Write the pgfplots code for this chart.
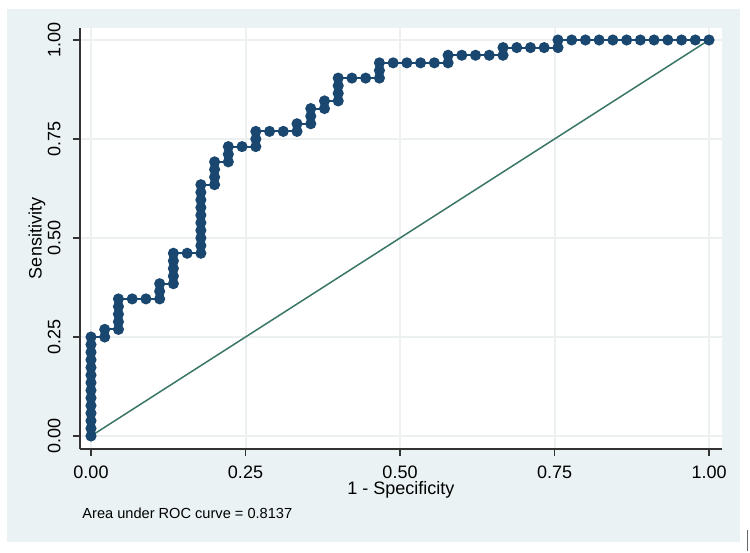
\documentclass[border=0pt]{standalone}
\usepackage{fontspec}
\setmainfont{Liberation Sans}
\usepackage{pgfplots}
\pgfplotsset{compat=1.18}

\definecolor{stnavy}{RGB}{26,71,111}
\definecolor{bgblue}{RGB}{234,242,243}
\definecolor{refgreen}{RGB}{57,118,102}
\definecolor{gridc}{RGB}{236,240,241}

\begin{document}
\begin{tikzpicture}
  % picture frame, 1 px = 0.5pt, origin at the axis corner
  \useasboundingbox (-40pt,-51.5pt) rectangle (335pt,224.5pt);
  \fill[bgblue] (-36.5pt,-46.5pt) rectangle (330pt,220pt);
  \begin{axis}[
    at={(0pt,0pt)}, anchor=south west,
    scale only axis, width=321pt, height=210.5pt,
    xmin=-0.0178, xmax=1.021, ymin=-0.0328, ymax=1.0303,
    axis x line*=bottom, axis y line*=left,
    axis line style={draw=black!80, line width=0.6pt},
    axis background/.style={fill=white},
    xtick={0,0.25,0.5,0.75,1}, ytick={0,0.25,0.5,0.75,1},
    xticklabels={0.00,0.25,0.50,0.75,1.00},
    yticklabels={0.00,0.25,0.50,0.75,1.00},
    tick align=outside, major tick length=3.5pt,
    tick style={draw=black!80, line width=0.6pt},
    grid=major, major grid style={draw=gridc, line width=1pt},
    ticklabel style={font=\fontsize{9}{10}\selectfont, inner sep=0pt},
    xticklabel style={anchor=north, yshift=-4.8pt},
    yticklabel style={rotate=90, anchor=south, yshift=6pt},
    xlabel={1 - Specificity},
    ylabel={Sensitivity},
    label style={font=\fontsize{9}{10}\selectfont, inner sep=0pt},
    xlabel style={at={(axis description cs:0.5,0)}, anchor=center, yshift=-20.5pt},
    ylabel style={at={(axis description cs:0,0.5)}, anchor=center, yshift=21.5pt},
  ]
    \addplot[refgreen, line width=0.75pt] coordinates {(0,0) (1,1)};
    \addplot[stnavy, line width=1pt, mark=*, mark size=2.25pt,
             mark options={fill=stnavy, draw=stnavy}] coordinates {
      (0,0) (0,0.0192) (0,0.0385) (0,0.0577) (0,0.0769) (0,0.0962) (0,0.1154)
      (0,0.1346) (0,0.1538) (0,0.1731) (0,0.1923) (0,0.2115) (0,0.2308) (0,0.25)
      (0.0222,0.25) (0.0222,0.2692)
      (0.0444,0.2692) (0.0444,0.2885) (0.0444,0.3077) (0.0444,0.3269) (0.0444,0.3462)
      (0.0667,0.3462) (0.0889,0.3462) (0.1111,0.3462) (0.1111,0.3654) (0.1111,0.3846)
      (0.1333,0.3846) (0.1333,0.4038) (0.1333,0.4231) (0.1333,0.4423) (0.1333,0.4615)
      (0.1556,0.4615) (0.1778,0.4615) (0.1778,0.4808) (0.1778,0.5) (0.1778,0.5192)
      (0.1778,0.5385) (0.1778,0.5577) (0.1778,0.5769) (0.1778,0.5962) (0.1778,0.6154)
      (0.1778,0.6346)
      (0.2,0.6346) (0.2,0.6538) (0.2,0.6731) (0.2,0.6923)
      (0.2222,0.6923) (0.2222,0.7115) (0.2222,0.7308)
      (0.2444,0.7308) (0.2667,0.7308) (0.2667,0.75) (0.2667,0.7692)
      (0.2889,0.7692) (0.3111,0.7692) (0.3333,0.7692) (0.3333,0.7885)
      (0.3556,0.7885) (0.3556,0.8077) (0.3556,0.8269)
      (0.3778,0.8269) (0.3778,0.8462)
      (0.4,0.8462) (0.4,0.8654) (0.4,0.8846) (0.4,0.9038)
      (0.4222,0.9038) (0.4444,0.9038) (0.4667,0.9038) (0.4667,0.9231) (0.4667,0.9423)
      (0.4889,0.9423) (0.5111,0.9423) (0.5333,0.9423) (0.5556,0.9423) (0.5778,0.9423)
      (0.5778,0.9615)
      (0.6,0.9615) (0.6222,0.9615) (0.6444,0.9615) (0.6667,0.9615) (0.6667,0.9808)
      (0.6889,0.9808) (0.7111,0.9808) (0.7333,0.9808) (0.7556,0.9808) (0.7556,1)
      (0.7778,1) (0.8,1) (0.8222,1) (0.8444,1) (0.8667,1) (0.8889,1) (0.9111,1)
      (0.9333,1) (0.9556,1) (0.9778,1) (1,1)
    };
  \end{axis}
  \node[anchor=west, inner sep=0pt, font=\fontsize{7.3}{8}\selectfont] at (1pt,-32pt)
    {Area under ROC curve = 0.8137};
  \draw[black!60, line width=0.5pt] (333.5pt,-40.5pt) -- (333.5pt,-51pt);
\end{tikzpicture}
\end{document}
